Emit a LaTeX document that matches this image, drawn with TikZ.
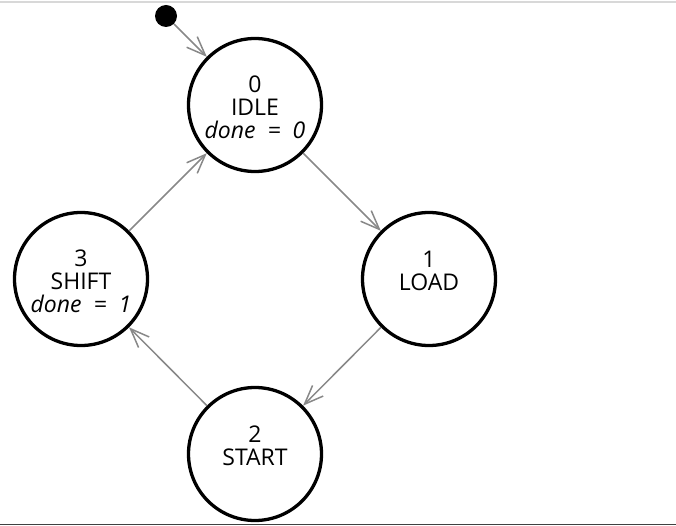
\documentclass[tikz,border=0pt]{standalone}
\usepackage{fontspec}
\setmainfont{Open Sans}
\usetikzlibrary{arrows.meta}
\definecolor{edgegray}{HTML}{888888}
\definecolor{topline}{HTML}{D8D8D8}
\definecolor{botline}{HTML}{404040}
\newcommand{\firstline}{\rule{0pt}{22pt}}
\begin{document}
\begin{tikzpicture}[x=1pt,y=-1pt,
  state/.style={circle,draw=black,line width=3.3pt,minimum size=133pt,inner sep=0pt,
    align=center,font=\fontsize{23}{23}\selectfont},
  initdot/.style={circle,fill=black,draw=none,minimum size=22pt,inner sep=0pt},
  trans/.style={draw=edgegray,line width=1.5pt,
    -{Straight Barb[length=19pt,width=15pt]}}]
\useasboundingbox (0,0) rectangle (676,526);
\draw[topline,line width=2pt] (0,2.5) -- (676,2.5);
\draw[botline,line width=1.5pt] (0,524.5) -- (676,524.5);
\node[state] (s0) at (255,105) {\firstline 0\\IDLE\\\textit{done\ \ =\ \ 0}};
\node[state] (s1) at (429,279) {\firstline 1\\LOAD\\\mbox{}};
\node[state] (s2) at (255,454) {\firstline 2\\START\\\mbox{}};
\node[state] (s3) at (81,279) {\firstline 3\\SHIFT\\\textit{done\ \ =\ \ 1}};
\node[initdot] (init) at (166,16) {};
\draw[trans] (init) -- (s0);
\draw[trans] (s0) -- (s1);
\draw[trans] (s1) -- (s2);
\draw[trans] (s2) -- (s3);
\draw[trans] (s3) -- (s0);
\end{tikzpicture}
\end{document}
